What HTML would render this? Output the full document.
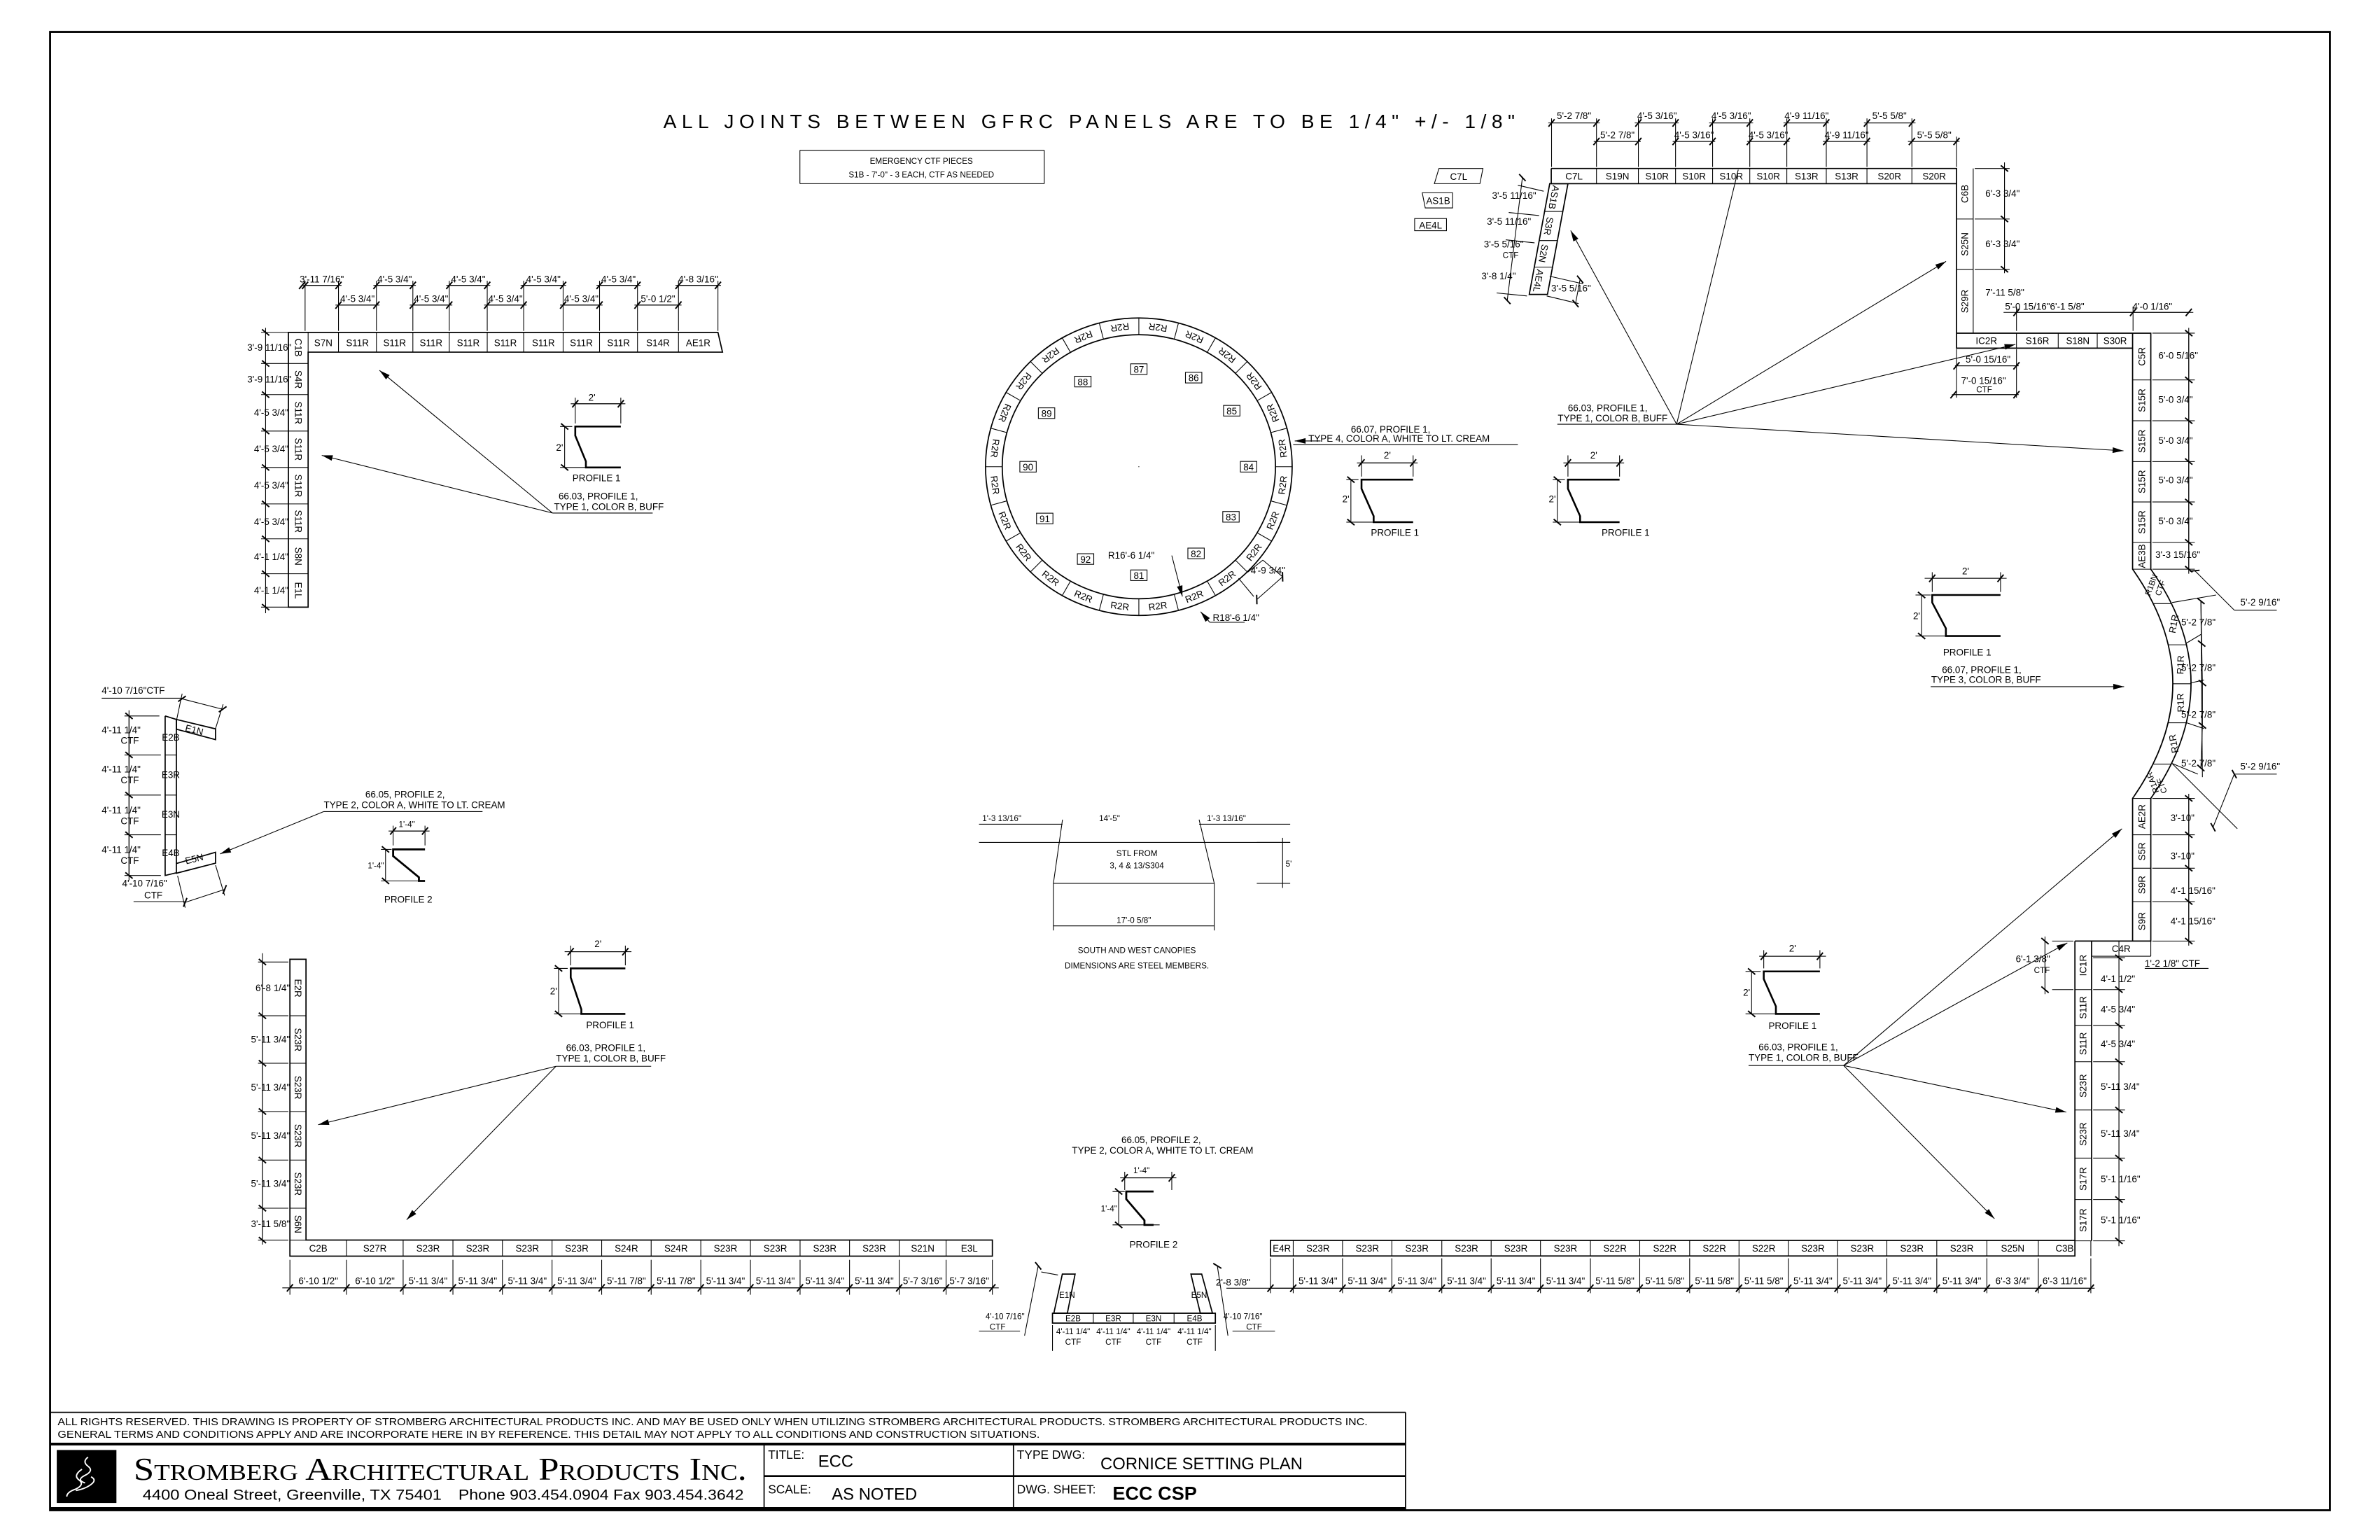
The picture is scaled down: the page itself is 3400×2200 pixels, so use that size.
<!DOCTYPE html>
<html><head><meta charset="utf-8"><style>
html,body{margin:0;padding:0;background:#fff;}
svg{display:block;}
text{font-family:"Liberation Sans Narrow","Liberation Sans",sans-serif;fill:#000;}
.t{font-size:6.2px;}
.s{font-size:5.4px;}
.c{text-anchor:middle;}
.e{text-anchor:end;}
.g{fill:#888;}
line,path,polyline,polygon,rect,ellipse{stroke:#000;fill:none;stroke-width:0.5;}
.k{stroke-width:0.8;}
.gl{stroke:#999;}
</style></head><body>
<svg xmlns="http://www.w3.org/2000/svg" width="3400" height="2200" viewBox="0 0 1568 1014.6" preserveAspectRatio="none">
<defs>
<marker id="a" markerUnits="userSpaceOnUse" markerWidth="10" markerHeight="10" viewBox="-6 -3 7 6" refX="0" refY="0" orient="auto"><path d="M0,0 L-5,-1.3 L-5,1.3 Z" style="fill:#000;stroke:none"/></marker>
<marker id="k" markerUnits="userSpaceOnUse" markerWidth="8" markerHeight="8" viewBox="-4 -4 8 8" refX="0" refY="0" orient="auto"><path d="M-2,2.4 L2,-2.4" style="stroke:#000;stroke-width:0.9"/></marker>
</defs>
<rect x="0" y="0" width="1568" height="1014.6" style="fill:#fff;stroke:none"/>
<rect x="33" y="21" width="1502" height="974" style="stroke-width:1.3"/>

<text x="437" y="84.5" textLength="561" lengthAdjust="spacing" style="font-size:13px;font-family:'Liberation Sans',sans-serif">ALL JOINTS BETWEEN GFRC PANELS ARE TO BE 1/4" +/- 1/8"</text>
<line x1="527" y1="99" x2="688" y2="99"/><line x1="527" y1="121" x2="688" y2="121"/>
<line x1="527" y1="99" x2="527" y2="121"/><line x1="688" y1="99" x2="688" y2="121"/>
<text class="s c" x="607" y="108">EMERGENCY CTF PIECES</text>
<text class="s c" x="607" y="117">S1B - 7'-0" - 3 EACH, CTF AS NEEDED</text>

<!-- ================= TOP LEFT ================= -->
<path class="k" d="M190,219 H473 L476,232 H203 V400 H190 Z"/>
<g class="k">
<line x1="203" y1="219" x2="203" y2="232"/><line x1="223" y1="219" x2="223" y2="232"/><line x1="248" y1="219" x2="248" y2="232"/><line x1="272" y1="219" x2="272" y2="232"/><line x1="296" y1="219" x2="296" y2="232"/><line x1="321" y1="219" x2="321" y2="232"/><line x1="345" y1="219" x2="345" y2="232"/><line x1="371" y1="219" x2="371" y2="232"/><line x1="395" y1="219" x2="395" y2="232"/><line x1="420" y1="219" x2="420" y2="232"/><line x1="447" y1="219" x2="447" y2="232"/>
<line x1="190" y1="239.5" x2="203" y2="239.5"/><line x1="190" y1="260" x2="203" y2="260"/><line x1="190" y1="284" x2="203" y2="284"/><line x1="190" y1="308" x2="203" y2="308"/><line x1="190" y1="332" x2="203" y2="332"/><line x1="190" y1="355" x2="203" y2="355"/><line x1="190" y1="378" x2="203" y2="378"/>
</g>
<g class="t c">
<text x="213" y="228">S7N</text><text x="235.5" y="228">S11R</text><text x="260" y="228">S11R</text><text x="284" y="228">S11R</text><text x="308.5" y="228">S11R</text><text x="333" y="228">S11R</text><text x="358" y="228">S11R</text><text x="383" y="228">S11R</text><text x="407.5" y="228">S11R</text><text x="433.5" y="228">S14R</text><text x="460" y="228">AE1R</text>
<text transform="translate(196.5,229) rotate(90)" dy="2.2">C1B</text>
<text transform="translate(196.5,250) rotate(90)" dy="2.2">S4R</text>
<text transform="translate(196.5,272) rotate(90)" dy="2.2">S11R</text>
<text transform="translate(196.5,296) rotate(90)" dy="2.2">S11R</text>
<text transform="translate(196.5,320) rotate(90)" dy="2.2">S11R</text>
<text transform="translate(196.5,343.5) rotate(90)" dy="2.2">S11R</text>
<text transform="translate(196.5,366.5) rotate(90)" dy="2.2">S8N</text>
<text transform="translate(196.5,389) rotate(90)" dy="2.2">E1L</text>
</g>
<g>
<line x1="201" y1="218" x2="201" y2="185"/><line x1="223" y1="218" x2="223" y2="185"/><line x1="248" y1="218" x2="248" y2="185"/><line x1="272" y1="218" x2="272" y2="185"/><line x1="296" y1="218" x2="296" y2="185"/><line x1="321" y1="218" x2="321" y2="185"/><line x1="345" y1="218" x2="345" y2="185"/><line x1="371" y1="218" x2="371" y2="185"/><line x1="395" y1="218" x2="395" y2="185"/><line x1="420" y1="218" x2="420" y2="185"/><line x1="447" y1="218" x2="447" y2="185"/><line x1="473" y1="218" x2="473" y2="185"/>
<line x1="199" y1="188" x2="225" y2="188" marker-start="url(#k)"/><line x1="201" y1="188" x2="223" y2="188" marker-start="url(#k)" marker-end="url(#k)"/>
<line x1="246" y1="188" x2="274" y2="188"/><line x1="248" y1="188" x2="272" y2="188" marker-start="url(#k)" marker-end="url(#k)"/>
<line x1="294" y1="188" x2="323" y2="188"/><line x1="296" y1="188" x2="321" y2="188" marker-start="url(#k)" marker-end="url(#k)"/>
<line x1="343" y1="188" x2="373" y2="188"/><line x1="345" y1="188" x2="371" y2="188" marker-start="url(#k)" marker-end="url(#k)"/>
<line x1="393" y1="188" x2="422" y2="188"/><line x1="395" y1="188" x2="420" y2="188" marker-start="url(#k)" marker-end="url(#k)"/>
<line x1="445" y1="188" x2="475" y2="188"/><line x1="447" y1="188" x2="473" y2="188" marker-start="url(#k)" marker-end="url(#k)"/>
<line x1="221" y1="201" x2="250" y2="201"/><line x1="223" y1="201" x2="248" y2="201" marker-start="url(#k)" marker-end="url(#k)"/>
<line x1="270" y1="201" x2="298" y2="201"/><line x1="272" y1="201" x2="296" y2="201" marker-start="url(#k)" marker-end="url(#k)"/>
<line x1="319" y1="201" x2="347" y2="201"/><line x1="321" y1="201" x2="345" y2="201" marker-start="url(#k)" marker-end="url(#k)"/>
<line x1="369" y1="201" x2="397" y2="201"/><line x1="371" y1="201" x2="395" y2="201" marker-start="url(#k)" marker-end="url(#k)"/>
<line x1="418" y1="201" x2="449" y2="201"/><line x1="420" y1="201" x2="447" y2="201" marker-start="url(#k)" marker-end="url(#k)"/>
</g>
<g class="t c">
<text x="212" y="186">3'-11 7/16"</text><text x="260" y="186">4'-5 3/4"</text><text x="308.5" y="186">4'-5 3/4"</text><text x="358" y="186">4'-5 3/4"</text><text x="407.5" y="186">4'-5 3/4"</text><text x="460" y="186">4'-8 3/16"</text>
<text x="235.5" y="199">4'-5 3/4"</text><text x="284" y="199">4'-5 3/4"</text><text x="333" y="199">4'-5 3/4"</text><text x="383" y="199">4'-5 3/4"</text><text x="433.5" y="199">5'-0 1/2"</text>
</g>
<g>
<line x1="175" y1="216" x2="175" y2="404"/>
<line x1="172" y1="219" x2="190" y2="219"/><line x1="172" y1="239.5" x2="190" y2="239.5"/><line x1="172" y1="260" x2="190" y2="260"/><line x1="172" y1="284" x2="190" y2="284"/><line x1="172" y1="308" x2="190" y2="308"/><line x1="172" y1="332" x2="190" y2="332"/><line x1="172" y1="355" x2="190" y2="355"/><line x1="172" y1="378" x2="190" y2="378"/><line x1="172" y1="400" x2="190" y2="400"/>
<line x1="175" y1="219" x2="175" y2="239.5" marker-start="url(#k)" marker-end="url(#k)"/><line x1="175" y1="239.5" x2="175" y2="260" marker-end="url(#k)"/><line x1="175" y1="260" x2="175" y2="284" marker-end="url(#k)"/><line x1="175" y1="284" x2="175" y2="308" marker-end="url(#k)"/><line x1="175" y1="308" x2="175" y2="332" marker-end="url(#k)"/><line x1="175" y1="332" x2="175" y2="355" marker-end="url(#k)"/><line x1="175" y1="355" x2="175" y2="378" marker-end="url(#k)"/><line x1="175" y1="378" x2="175" y2="400" marker-end="url(#k)"/>
</g>
<g class="t e">
<text x="192" y="231">3'-9 11/16"</text><text x="192" y="252">3'-9 11/16"</text><text x="190" y="274">4'-5 3/4"</text><text x="190" y="298">4'-5 3/4"</text><text x="190" y="322">4'-5 3/4"</text><text x="190" y="346">4'-5 3/4"</text><text x="190" y="369">4'-1 1/4"</text><text x="190" y="391">4'-1 1/4"</text>
</g>
<g>
<line x1="376" y1="266" x2="412" y2="266"/><line x1="379" y1="266" x2="409" y2="266" marker-start="url(#k)" marker-end="url(#k)"/>
<line x1="379" y1="262" x2="379" y2="279"/><line x1="409" y1="262" x2="409" y2="279"/>
<line x1="369" y1="281" x2="377" y2="281"/><line x1="369" y1="308" x2="386" y2="308"/>
<line x1="372" y1="281" x2="372" y2="308" marker-start="url(#k)" marker-end="url(#k)"/>
<path d="M409,281 H379 V287 L386,304 V308 H409" style="stroke-width:1.2"/>
</g>
<text class="t c" x="390" y="264">2'</text><text class="t e" x="371" y="297">2'</text>
<text class="t c" x="393" y="317">PROFILE 1</text>
<text class="t" x="368" y="329">66.03, PROFILE 1,</text>
<text class="t" x="365" y="336">TYPE 1, COLOR B, BUFF</text>
<line x1="364" y1="338" x2="430" y2="338"/>
<line x1="364" y1="338" x2="250" y2="244" marker-end="url(#a)"/>
<line x1="364" y1="338" x2="212" y2="300" marker-end="url(#a)"/>

<!-- ================= CIRCLE ================= -->
<ellipse cx="750.3" cy="307.5" rx="101" ry="98" style="stroke-width:0.8"/>
<ellipse cx="750.3" cy="307.5" rx="90" ry="87" style="stroke-width:0.8"/>
<g class="k">
<line x1="840.3" y1="307.5" x2="851.3" y2="307.5"/><line x1="837.2" y1="330" x2="847.9" y2="332.9"/><line x1="828.2" y1="351" x2="837.8" y2="356.5"/><line x1="813.9" y1="369" x2="821.7" y2="376.8"/><line x1="795.3" y1="382.8" x2="800.8" y2="392.4"/><line x1="773.6" y1="391.5" x2="776.4" y2="402.2"/><line x1="750.3" y1="394.5" x2="750.3" y2="405.5"/>
<line x1="727" y1="391.5" x2="724.2" y2="402.2"/><line x1="705.3" y1="382.8" x2="699.8" y2="392.4"/><line x1="686.7" y1="369" x2="678.9" y2="376.8"/><line x1="672.4" y1="351" x2="662.8" y2="356.5"/><line x1="663.4" y1="330" x2="652.7" y2="332.9"/><line x1="660.3" y1="307.5" x2="649.3" y2="307.5"/>
<line x1="663.4" y1="285" x2="652.7" y2="282.1"/><line x1="672.4" y1="264" x2="662.8" y2="258.5"/><line x1="686.7" y1="246" x2="678.9" y2="238.2"/><line x1="705.3" y1="232.2" x2="699.8" y2="222.6"/><line x1="727" y1="223.5" x2="724.2" y2="212.8"/><line x1="750.3" y1="220.5" x2="750.3" y2="209.5"/>
<line x1="773.6" y1="223.5" x2="776.4" y2="212.8"/><line x1="795.3" y1="232.2" x2="800.8" y2="222.6"/><line x1="813.9" y1="246" x2="821.7" y2="238.2"/><line x1="828.2" y1="264" x2="837.8" y2="258.5"/><line x1="837.2" y1="285" x2="847.9" y2="282.1"/>
</g>
<g class="t c">
<text transform="translate(845,319.6) rotate(-82.5)" dy="2.2">R2R</text>
<text transform="translate(838.5,342.9) rotate(-67.5)" dy="2.2">R2R</text>
<text transform="translate(826.1,363.8) rotate(-52.5)" dy="2.2">R2R</text>
<text transform="translate(808.4,380.9) rotate(-37.5)" dy="2.2">R2R</text>
<text transform="translate(786.8,392.9) rotate(-22.5)" dy="2.2">R2R</text>
<text transform="translate(762.8,399.2) rotate(-7.5)" dy="2.2">R2R</text>
<text transform="translate(737.8,399.2) rotate(7.5)" dy="2.2">R2R</text>
<text transform="translate(713.8,392.9) rotate(22.5)" dy="2.2">R2R</text>
<text transform="translate(692.2,380.9) rotate(37.5)" dy="2.2">R2R</text>
<text transform="translate(674.5,363.8) rotate(52.5)" dy="2.2">R2R</text>
<text transform="translate(662.1,342.9) rotate(67.5)" dy="2.2">R2R</text>
<text transform="translate(655.6,319.6) rotate(82.5)" dy="2.2">R2R</text>
<text transform="translate(655.6,295.4) rotate(97.5)" dy="2.2">R2R</text>
<text transform="translate(662.1,272.1) rotate(112.5)" dy="2.2">R2R</text>
<text transform="translate(674.5,251.2) rotate(127.5)" dy="2.2">R2R</text>
<text transform="translate(692.2,234.1) rotate(142.5)" dy="2.2">R2R</text>
<text transform="translate(713.8,222.1) rotate(157.5)" dy="2.2">R2R</text>
<text transform="translate(737.8,215.8) rotate(172.5)" dy="2.2">R2R</text>
<text transform="translate(762.8,215.8) rotate(187.5)" dy="2.2">R2R</text>
<text transform="translate(786.8,222.1) rotate(202.5)" dy="2.2">R2R</text>
<text transform="translate(808.4,234.1) rotate(217.5)" dy="2.2">R2R</text>
<text transform="translate(826.1,251.2) rotate(232.5)" dy="2.2">R2R</text>
<text transform="translate(838.5,272.1) rotate(247.5)" dy="2.2">R2R</text>
<text transform="translate(845,295.4) rotate(262.5)" dy="2.2">R2R</text>
</g>
<g>
<rect x="744.9" y="239.7" width="10.8" height="7"/><rect x="781" y="245.3" width="10.8" height="7"/><rect x="806.1" y="267.1" width="10.8" height="7"/><rect x="817.2" y="304" width="10.8" height="7"/><rect x="805.6" y="337" width="10.8" height="7"/><rect x="782.6" y="361.1" width="10.8" height="7"/><rect x="744.9" y="375.5" width="10.8" height="7"/><rect x="709.8" y="364.8" width="10.8" height="7"/><rect x="682.9" y="338.1" width="10.8" height="7"/><rect x="671.9" y="304" width="10.8" height="7"/><rect x="684.1" y="268.7" width="10.8" height="7"/><rect x="708" y="247.9" width="10.8" height="7"/>
</g>
<g class="t c">
<text x="750.3" y="245.6">87</text><text x="786.4" y="251.2">86</text><text x="811.5" y="273">85</text><text x="822.6" y="309.9">84</text><text x="811" y="342.9">83</text><text x="788" y="367">82</text><text x="750.3" y="381.4">81</text><text x="715.2" y="370.7">92</text><text x="688.3" y="344">91</text><text x="677.3" y="309.9">90</text><text x="689.5" y="274.6">89</text><text x="713.4" y="253.8">88</text>
</g>
<circle cx="750.3" cy="307.5" r="0.3" style="fill:#000"/>
<text class="t" x="730" y="368">R16'-6 1/4"</text>
<line x1="772" y1="366" x2="779" y2="393" marker-end="url(#a)"/>
<text class="t" x="799" y="409">R18'-6 1/4"</text>
<line x1="797" y1="410" x2="820" y2="410"/>
<line x1="797" y1="410" x2="791" y2="403" marker-end="url(#a)"/>
<line x1="822" y1="377" x2="832" y2="369"/><line x1="832" y1="369" x2="845" y2="380"/>
<line x1="816" y1="381" x2="826" y2="393"/><line x1="845" y1="380" x2="828" y2="395" marker-start="url(#k)" marker-end="url(#k)"/>
<text class="t" x="824" y="378">4'-9 3/4"</text>
<text class="t" x="890" y="285">66.07, PROFILE 1,</text>
<text class="t" x="862" y="291">TYPE 4, COLOR A, WHITE TO LT. CREAM</text>
<line x1="852" y1="293" x2="1000" y2="293"/>
<line x1="870" y1="290.5" x2="853" y2="290.5" marker-end="url(#a)"/>

<g>
<line x1="894" y1="305" x2="934" y2="305"/><line x1="897" y1="305" x2="931" y2="305" marker-start="url(#k)" marker-end="url(#k)"/>
<line x1="897" y1="300" x2="897" y2="314"/><line x1="931" y1="300" x2="931" y2="314"/>
<line x1="887" y1="316" x2="895" y2="316"/><line x1="887" y1="344" x2="905" y2="344"/>
<line x1="890" y1="316" x2="890" y2="344" marker-start="url(#k)" marker-end="url(#k)"/>
<path d="M931,316 H897 V322 L905,340 V344 H931" style="stroke-width:1.2"/>
</g>
<text class="t c" x="914" y="302">2'</text><text class="t e" x="889" y="331">2'</text>
<text class="t c" x="919" y="353">PROFILE 1</text>
<g>
<line x1="1030" y1="305" x2="1070" y2="305"/><line x1="1033" y1="305" x2="1067" y2="305" marker-start="url(#k)" marker-end="url(#k)"/>
<line x1="1033" y1="300" x2="1033" y2="314"/><line x1="1067" y1="300" x2="1067" y2="314"/>
<line x1="1023" y1="316" x2="1031" y2="316"/><line x1="1023" y1="344" x2="1041" y2="344"/>
<line x1="1026" y1="316" x2="1026" y2="344" marker-start="url(#k)" marker-end="url(#k)"/>
<path d="M1067,316 H1033 V322 L1041,340 V344 H1067" style="stroke-width:1.2"/>
</g>
<text class="t c" x="1050" y="302">2'</text><text class="t e" x="1025" y="331">2'</text>
<text class="t c" x="1071" y="353">PROFILE 1</text>

<!-- ================= TOP RIGHT ================= -->
<polygon points="948,111 977,111 975,121 945,121"/>
<text class="t c" x="961" y="118.5">C7L</text>
<polygon points="937,127 957,127 957,137 939,137"/>
<text class="t c" x="947.5" y="134.5">AS1B</text>
<rect x="932" y="144" width="21" height="8"/>
<text class="t c" x="942.5" y="150.5">AE4L</text>

<path class="k" d="M1022,111 H1289 V219.5 H1417 V375 Q1470,450 1417,526 V620 H1378 V817.5 M1022,111 V121 M1405,219.5 V375 Q1458,450 1405,526 V620 M1289,121 H1022 M1289,111 V229.4 H1405 M1367,620 V827.5 H837 V817.2 H1367 M1367,620 H1378"/>
<polygon class="k" points="1021,121 1033,121 1019.5,194 1007.5,194"/>
<g class="k">
<line x1="1017.6" y1="139.3" x2="1029.6" y2="139.3"/><line x1="1014.1" y1="158.5" x2="1026.1" y2="158.5"/><line x1="1010.8" y1="176" x2="1022.8" y2="176"/>
<line x1="1051.8" y1="111" x2="1051.8" y2="121"/><line x1="1079.4" y1="111" x2="1079.4" y2="121"/><line x1="1103.9" y1="111" x2="1103.9" y2="121"/><line x1="1128.3" y1="111" x2="1128.3" y2="121"/><line x1="1152.8" y1="111" x2="1152.8" y2="121"/><line x1="1177.2" y1="111" x2="1177.2" y2="121"/><line x1="1203.2" y1="111" x2="1203.2" y2="121"/><line x1="1230" y1="111" x2="1230" y2="121"/><line x1="1259.6" y1="111" x2="1259.6" y2="121"/>
<line x1="1300" y1="111" x2="1300" y2="219.5"/>
<line x1="1289" y1="144.3" x2="1300" y2="144.3"/><line x1="1289" y1="177.4" x2="1300" y2="177.4"/>
<line x1="1289" y1="219.5" x2="1405" y2="219.5"/>
<line x1="1328.5" y1="219.5" x2="1328.5" y2="229.4"/><line x1="1356" y1="219.5" x2="1356" y2="229.4"/><line x1="1381.7" y1="219.5" x2="1381.7" y2="229.4"/>
<line x1="1405" y1="250.3" x2="1417" y2="250.3"/><line x1="1405" y1="277.2" x2="1417" y2="277.2"/><line x1="1405" y1="304.1" x2="1417" y2="304.1"/><line x1="1405" y1="330.7" x2="1417" y2="330.7"/><line x1="1405" y1="357.3" x2="1417" y2="357.3"/><line x1="1405" y1="375" x2="1417" y2="375"/>
<line x1="1418.5" y1="397.7" x2="1430.5" y2="397.7"/><line x1="1428.4" y1="424.8" x2="1440.4" y2="424.8"/><line x1="1431.5" y1="450.5" x2="1443.5" y2="450.5"/><line x1="1428.4" y1="476.2" x2="1440.4" y2="476.2"/><line x1="1418.5" y1="503.4" x2="1430.5" y2="503.4"/>
<line x1="1405" y1="526" x2="1417" y2="526"/><line x1="1405" y1="550" x2="1417" y2="550"/><line x1="1405" y1="572" x2="1417" y2="572"/><line x1="1405" y1="594" x2="1417" y2="594"/>
<line x1="1378" y1="630" x2="1417" y2="630"/><line x1="1417" y1="620" x2="1417" y2="630"/>
<line x1="1367" y1="652" x2="1378" y2="652"/><line x1="1367" y1="675.6" x2="1378" y2="675.6"/><line x1="1367" y1="699.5" x2="1378" y2="699.5"/><line x1="1367" y1="731.3" x2="1378" y2="731.3"/><line x1="1367" y1="763" x2="1378" y2="763"/><line x1="1367" y1="790.3" x2="1378" y2="790.3"/><line x1="1367" y1="817.5" x2="1378" y2="817.5"/>
<line x1="1377.5" y1="817.5" x2="1377.5" y2="827.5"/>
<line x1="852" y1="817.2" x2="852" y2="827.5"/><line x1="884.5" y1="817.2" x2="884.5" y2="827.5"/><line x1="917" y1="817.2" x2="917" y2="827.5"/><line x1="949.9" y1="817.2" x2="949.9" y2="827.5"/><line x1="982.4" y1="817.2" x2="982.4" y2="827.5"/><line x1="1014.9" y1="817.2" x2="1014.9" y2="827.5"/><line x1="1047.8" y1="817.2" x2="1047.8" y2="827.5"/><line x1="1080.3" y1="817.2" x2="1080.3" y2="827.5"/><line x1="1113.2" y1="817.2" x2="1113.2" y2="827.5"/><line x1="1145.7" y1="817.2" x2="1145.7" y2="827.5"/><line x1="1178.2" y1="817.2" x2="1178.2" y2="827.5"/><line x1="1210.6" y1="817.2" x2="1210.6" y2="827.5"/><line x1="1243.1" y1="817.2" x2="1243.1" y2="827.5"/><line x1="1276" y1="817.2" x2="1276" y2="827.5"/><line x1="1309" y1="817.2" x2="1309" y2="827.5"/><line x1="1342.9" y1="817.2" x2="1342.9" y2="827.5"/>
</g>
<g class="t c">
<text transform="translate(1023.8,130) rotate(100.5)" dy="2.2">AS1B</text>
<text transform="translate(1020.3,149) rotate(100.5)" dy="2.2">S3R</text>
<text transform="translate(1016.9,167) rotate(100.5)" dy="2.2">S2N</text>
<text transform="translate(1013.5,185) rotate(100.5)" dy="2.2">AE4L</text>
<text x="1037" y="118.4">C7L</text><text x="1065.6" y="118.4">S19N</text><text x="1091.7" y="118.4">S10R</text><text x="1116.1" y="118.4">S10R</text><text x="1140.6" y="118.4">S10R</text><text x="1165" y="118.4">S10R</text><text x="1190.2" y="118.4">S13R</text><text x="1216.6" y="118.4">S13R</text><text x="1244.8" y="118.4">S20R</text><text x="1274.3" y="118.4">S20R</text>
<text transform="translate(1294.5,127.7) rotate(-90)" dy="2.2">C6B</text>
<text transform="translate(1294.5,160.9) rotate(-90)" dy="2.2">S25N</text>
<text transform="translate(1294.5,198.5) rotate(-90)" dy="2.2">S29R</text>
<text x="1308.7" y="226.7">IC2R</text><text x="1342.3" y="226.7">S16R</text><text x="1368.9" y="226.7">S18N</text><text x="1393.5" y="226.7">S30R</text>
<text transform="translate(1411,234.9) rotate(-90)" dy="2.2">C5R</text>
<text transform="translate(1411,263.8) rotate(-90)" dy="2.2">S15R</text>
<text transform="translate(1411,290.7) rotate(-90)" dy="2.2">S15R</text>
<text transform="translate(1411,317.4) rotate(-90)" dy="2.2">S15R</text>
<text transform="translate(1411,344) rotate(-90)" dy="2.2">S15R</text>
<text transform="translate(1411,366.4) rotate(-90)" dy="2.2">AE3B</text>
<text transform="translate(1419,386) rotate(-70)" dy="0" class="s">R1BN</text>
<text transform="translate(1425,388) rotate(-70)" dy="0" class="s">CTF</text>
<text transform="translate(1432,411) rotate(-80)" dy="2.2">R1R</text>
<text transform="translate(1436.5,438) rotate(-88)" dy="2.2">R1R</text>
<text transform="translate(1436.5,463) rotate(-92)" dy="2.2">R1R</text>
<text transform="translate(1432,490) rotate(-100)" dy="2.2">R1R</text>
<text transform="translate(1420,515) rotate(-110)" dy="0" class="s">R1AR</text>
<text transform="translate(1426,517) rotate(-110)" dy="0" class="s">CTF</text>
<text transform="translate(1411,538) rotate(-90)" dy="2.2">AE2R</text>
<text transform="translate(1411,561) rotate(-90)" dy="2.2">S5R</text>
<text transform="translate(1411,583) rotate(-90)" dy="2.2">S9R</text>
<text transform="translate(1411,607) rotate(-90)" dy="2.2">S9R</text>
<text x="1397.5" y="627.2">C4R</text>
<text transform="translate(1372.4,636) rotate(-90)" dy="2.2">IC1R</text>
<text transform="translate(1372.4,663.8) rotate(-90)" dy="2.2">S11R</text>
<text transform="translate(1372.4,687.6) rotate(-90)" dy="2.2">S11R</text>
<text transform="translate(1372.4,715.4) rotate(-90)" dy="2.2">S23R</text>
<text transform="translate(1372.4,747.2) rotate(-90)" dy="2.2">S23R</text>
<text transform="translate(1372.4,776.7) rotate(-90)" dy="2.2">S17R</text>
<text transform="translate(1372.4,803.9) rotate(-90)" dy="2.2">S17R</text>
</g>
<g>
<line x1="1022.2" y1="110" x2="1022.2" y2="78"/><line x1="1051.8" y1="110" x2="1051.8" y2="78"/><line x1="1079.4" y1="110" x2="1079.4" y2="78"/><line x1="1103.9" y1="110" x2="1103.9" y2="78"/><line x1="1128.3" y1="110" x2="1128.3" y2="78"/><line x1="1152.8" y1="110" x2="1152.8" y2="78"/><line x1="1177.2" y1="110" x2="1177.2" y2="78"/><line x1="1203.2" y1="110" x2="1203.2" y2="78"/><line x1="1230" y1="110" x2="1230" y2="78"/><line x1="1259.6" y1="110" x2="1259.6" y2="78"/><line x1="1289" y1="110" x2="1289" y2="90"/>
<line x1="1020" y1="81" x2="1054" y2="81"/><line x1="1022.2" y1="81" x2="1051.8" y2="81" marker-start="url(#k)" marker-end="url(#k)"/>
<line x1="1077" y1="81" x2="1106" y2="81"/><line x1="1079.4" y1="81" x2="1103.9" y2="81" marker-start="url(#k)" marker-end="url(#k)"/>
<line x1="1126" y1="81" x2="1155" y2="81"/><line x1="1128.3" y1="81" x2="1152.8" y2="81" marker-start="url(#k)" marker-end="url(#k)"/>
<line x1="1175" y1="81" x2="1205" y2="81"/><line x1="1177.2" y1="81" x2="1203.2" y2="81" marker-start="url(#k)" marker-end="url(#k)"/>
<line x1="1228" y1="81" x2="1262" y2="81"/><line x1="1230" y1="81" x2="1259.6" y2="81" marker-start="url(#k)" marker-end="url(#k)"/>
<line x1="1050" y1="93.2" x2="1081" y2="93.2"/><line x1="1051.8" y1="93.2" x2="1079.4" y2="93.2" marker-start="url(#k)" marker-end="url(#k)"/>
<line x1="1102" y1="93.2" x2="1130" y2="93.2"/><line x1="1103.9" y1="93.2" x2="1128.3" y2="93.2" marker-start="url(#k)" marker-end="url(#k)"/>
<line x1="1151" y1="93.2" x2="1179" y2="93.2"/><line x1="1152.8" y1="93.2" x2="1177.2" y2="93.2" marker-start="url(#k)" marker-end="url(#k)"/>
<line x1="1201" y1="93.2" x2="1232" y2="93.2"/><line x1="1203.2" y1="93.2" x2="1230" y2="93.2" marker-start="url(#k)" marker-end="url(#k)"/>
<line x1="1257" y1="93.2" x2="1291" y2="93.2"/><line x1="1259.6" y1="93.2" x2="1289" y2="93.2" marker-start="url(#k)" marker-end="url(#k)"/>
</g>
<g class="t c">
<text x="1037" y="78.5">5'-2 7/8"</text><text x="1091.7" y="78.5">4'-5 3/16"</text><text x="1140.6" y="78.5">4'-5 3/16"</text><text x="1190.2" y="78.5">4'-9 11/16"</text><text x="1244.8" y="78.5">5'-5 5/8"</text>
<text x="1065.6" y="91">5'-2 7/8"</text><text x="1116.1" y="91">4'-5 3/16"</text><text x="1165" y="91">4'-5 3/16"</text><text x="1216.6" y="91">4'-9 11/16"</text><text x="1274.3" y="91">5'-5 5/8"</text>
</g>
<g>
<line x1="1000" y1="122" x2="1017" y2="126"/><line x1="994" y1="140" x2="1014" y2="142"/><line x1="992" y1="158" x2="1011" y2="160"/><line x1="986" y1="193" x2="1006" y2="195"/>
<line x1="1003" y1="117" x2="993" y2="198" marker-start="url(#k)" marker-end="url(#k)"/>
<line x1="1021" y1="182" x2="1043" y2="187"/><line x1="1019" y1="195" x2="1040" y2="200"/>
<line x1="1041" y1="184" x2="1038" y2="200" marker-start="url(#k)" marker-end="url(#k)"/>
</g>
<g class="t">
<text x="983" y="131">3'-5 11/16"</text><text x="979.6" y="148">3'-5 11/16"</text><text x="977.6" y="163">3'-5 5/16"</text><text class="s" x="990" y="170">CTF</text><text x="976" y="184">3'-8 1/4"</text><text x="1022" y="192">3'-5 5/16"</text>
</g>
<g>
<line x1="1301" y1="111" x2="1324" y2="111"/><line x1="1301" y1="144.3" x2="1324" y2="144.3"/><line x1="1301" y1="177.4" x2="1324" y2="177.4"/>
<line x1="1320.6" y1="107" x2="1320.6" y2="180" />
<line x1="1320.6" y1="111" x2="1320.6" y2="144.3" marker-start="url(#k)" marker-end="url(#k)"/><line x1="1320.6" y1="144.3" x2="1320.6" y2="177.4" marker-end="url(#k)"/>
<line x1="1328.5" y1="218" x2="1328.5" y2="202"/><line x1="1405.3" y1="218" x2="1405.3" y2="202"/>
<line x1="1320" y1="205.8" x2="1445" y2="205.8"/>
<line x1="1328.5" y1="205.8" x2="1405.3" y2="205.8" marker-start="url(#k)" marker-end="url(#k)"/><line x1="1405.3" y1="205.8" x2="1442" y2="205.8" marker-end="url(#k)"/>
<line x1="1289" y1="230" x2="1289" y2="262"/><line x1="1328.5" y1="230" x2="1328.5" y2="262"/>
<line x1="1288" y1="241" x2="1330" y2="241"/><line x1="1289" y1="241" x2="1328.5" y2="241" marker-start="url(#k)" marker-end="url(#k)"/>
<line x1="1286" y1="260" x2="1330" y2="260"/><line x1="1287" y1="260" x2="1328.5" y2="260" marker-start="url(#k)" marker-end="url(#k)"/>
<line x1="1418" y1="219.5" x2="1446" y2="219.5"/><line x1="1418" y1="250.3" x2="1446" y2="250.3"/><line x1="1418" y1="277.2" x2="1446" y2="277.2"/><line x1="1418" y1="304.1" x2="1446" y2="304.1"/><line x1="1418" y1="330.7" x2="1446" y2="330.7"/><line x1="1418" y1="357.3" x2="1446" y2="357.3"/><line x1="1418" y1="375" x2="1446" y2="375"/>
<line x1="1442" y1="216" x2="1442" y2="378"/>
<line x1="1442" y1="219.5" x2="1442" y2="250.3" marker-start="url(#k)" marker-end="url(#k)"/><line x1="1442" y1="250.3" x2="1442" y2="277.2" marker-end="url(#k)"/><line x1="1442" y1="277.2" x2="1442" y2="304.1" marker-end="url(#k)"/><line x1="1442" y1="304.1" x2="1442" y2="330.7" marker-end="url(#k)"/><line x1="1442" y1="330.7" x2="1442" y2="357.3" marker-end="url(#k)"/><line x1="1442" y1="357.3" x2="1442" y2="375" marker-end="url(#k)"/>
<line x1="1431" y1="397" x2="1460" y2="392"/><line x1="1446" y1="376" x2="1472" y2="402" marker-start="url(#k)"/>
<line x1="1472" y1="402" x2="1500" y2="402"/>
<line x1="1440" y1="424" x2="1450" y2="418"/><line x1="1443" y1="450" x2="1452" y2="448"/><line x1="1440" y1="476" x2="1452" y2="480"/><line x1="1431" y1="503" x2="1448" y2="510"/>
<line x1="1450" y1="396" x2="1451" y2="512"/>
<line x1="1450" y1="396" x2="1450.5" y2="424" marker-start="url(#k)" marker-end="url(#k)"/><line x1="1450.5" y1="424" x2="1451" y2="450" marker-end="url(#k)"/><line x1="1451" y1="450" x2="1451" y2="478" marker-end="url(#k)"/><line x1="1451" y1="478" x2="1450" y2="506" marker-end="url(#k)"/>
<line x1="1431" y1="503" x2="1474" y2="546"/><line x1="1472" y1="510" x2="1458" y2="545" marker-start="url(#k)" marker-end="url(#k)"/>
<line x1="1472" y1="510" x2="1500" y2="510"/>
<line x1="1418" y1="526" x2="1446" y2="526"/><line x1="1418" y1="550" x2="1446" y2="550"/><line x1="1418" y1="572" x2="1446" y2="572"/><line x1="1418" y1="594" x2="1446" y2="594"/><line x1="1418" y1="620" x2="1446" y2="620"/>
<line x1="1442" y1="523" x2="1442" y2="623"/>
<line x1="1442" y1="526" x2="1442" y2="550" marker-start="url(#k)" marker-end="url(#k)"/><line x1="1442" y1="550" x2="1442" y2="572" marker-end="url(#k)"/><line x1="1442" y1="572" x2="1442" y2="594" marker-end="url(#k)"/><line x1="1442" y1="594" x2="1442" y2="620" marker-end="url(#k)"/>
</g>
<g class="t">
<text x="1308" y="129.5">6'-3 3/4"</text><text x="1308" y="162.7">6'-3 3/4"</text><text x="1308" y="194.8">7'-11 5/8"</text>
<text x="1321" y="204">5'-0 15/16"6'-1 5/8"</text><text x="1405" y="204">4'-0 1/16"</text>
<text x="1295" y="239">5'-0 15/16"</text><text x="1292" y="253">7'-0 15/16"</text><text class="s" x="1302" y="258.5">CTF</text>
<text x="1422" y="236.4">6'-0 5/16"</text><text x="1422" y="265.4">5'-0 3/4"</text><text x="1422" y="292.3">5'-0 3/4"</text><text x="1422" y="318.5">5'-0 3/4"</text><text x="1422" y="345.4">5'-0 3/4"</text><text x="1420" y="367.5">3'-3 15/16"</text>
<text x="1476" y="399">5'-2 9/16"</text>
<text x="1437" y="412">5'-2 7/8"</text><text x="1437" y="442">5'-2 7/8"</text><text x="1437" y="473">5'-2 7/8"</text><text x="1437" y="505">5'-2 7/8"</text>
<text x="1476" y="507">5'-2 9/16"</text>
<text x="1430" y="541">3'-10"</text><text x="1430" y="566">3'-10"</text><text x="1430" y="589">4'-1 15/16"</text><text x="1430" y="609">4'-1 15/16"</text>
</g>
<text class="t" x="1033" y="271">66.03, PROFILE 1,</text>
<text class="t" x="1026.3" y="277.6">TYPE 1, COLOR B, BUFF</text>
<line x1="1026" y1="279.5" x2="1104.6" y2="279.5"/>
<line x1="1104.6" y1="279.5" x2="1034.8" y2="151.9" marker-end="url(#a)"/>
<line x1="1104.6" y1="279.5" x2="1145.2" y2="111.8"/>
<line x1="1104.6" y1="279.5" x2="1282.1" y2="172.2" marker-end="url(#a)"/>
<line x1="1104.6" y1="279.5" x2="1327.8" y2="226.9" marker-end="url(#a)"/>
<line x1="1104.6" y1="279.5" x2="1399" y2="297" marker-end="url(#a)"/>
<g>
<line x1="1268" y1="381" x2="1322" y2="381"/><line x1="1273" y1="381" x2="1318" y2="381" marker-start="url(#k)" marker-end="url(#k)"/>
<line x1="1273" y1="377" x2="1273" y2="390"/><line x1="1318" y1="377" x2="1318" y2="390"/>
<line x1="1262" y1="392" x2="1272" y2="392"/><line x1="1262" y1="419" x2="1282" y2="419"/>
<line x1="1266" y1="392" x2="1266" y2="419" marker-start="url(#k)" marker-end="url(#k)"/>
<path d="M1318,392 H1273 V397 L1282,414 V419 H1318" style="stroke-width:1.2"/>
</g>
<text class="t c" x="1295" y="378.5">2'</text><text class="t e" x="1265" y="408">2'</text>
<text class="t c" x="1296" y="432">PROFILE 1</text>
<text class="t" x="1279.4" y="443.5">66.07, PROFILE 1,</text>
<text class="t" x="1272.3" y="450">TYPE 3, COLOR B, BUFF</text>
<line x1="1272" y1="452.4" x2="1399.4" y2="452.4" marker-end="url(#a)"/>

<g>
<line x1="1352" y1="620" x2="1366" y2="620"/><line x1="1352" y1="652" x2="1366" y2="652"/>
<line x1="1347.3" y1="617" x2="1347.3" y2="655"/>
<line x1="1347.3" y1="620" x2="1347.3" y2="652" marker-start="url(#k)" marker-end="url(#k)"/>
<line x1="1379" y1="631" x2="1400" y2="631"/><line x1="1379" y1="652" x2="1400" y2="652"/><line x1="1379" y1="675.6" x2="1400" y2="675.6"/><line x1="1379" y1="699.5" x2="1400" y2="699.5"/><line x1="1379" y1="731.3" x2="1400" y2="731.3"/><line x1="1379" y1="763" x2="1400" y2="763"/><line x1="1379" y1="790.3" x2="1400" y2="790.3"/><line x1="1379" y1="817.5" x2="1400" y2="817.5"/>
<line x1="1396" y1="620" x2="1396" y2="821"/>
<line x1="1396" y1="631" x2="1396" y2="652" marker-start="url(#k)" marker-end="url(#k)"/><line x1="1396" y1="652" x2="1396" y2="675.6" marker-end="url(#k)"/><line x1="1396" y1="675.6" x2="1396" y2="699.5" marker-end="url(#k)"/><line x1="1396" y1="699.5" x2="1396" y2="731.3" marker-end="url(#k)"/><line x1="1396" y1="731.3" x2="1396" y2="763" marker-end="url(#k)"/><line x1="1396" y1="763" x2="1396" y2="790.3" marker-end="url(#k)"/><line x1="1396" y1="790.3" x2="1396" y2="817.5" marker-end="url(#k)"/>
<line x1="1413" y1="638" x2="1455" y2="638"/>
</g>
<g class="t">
<text x="1328" y="634">6'-1 3/8"</text><text class="s" x="1340" y="641">CTF</text>
<text x="1413" y="637">1'-2 1/8" CTF</text>
<text x="1384" y="647">4'-1 1/2"</text><text x="1384" y="667">4'-5 3/4"</text><text x="1384" y="690">4'-5 3/4"</text><text x="1384" y="718">5'-11 3/4"</text><text x="1384" y="749">5'-11 3/4"</text><text x="1384" y="779">5'-1 1/16"</text><text x="1384" y="806">5'-1 1/16"</text>
</g>
<g>
<line x1="1159" y1="630" x2="1203" y2="630"/><line x1="1162" y1="630" x2="1199" y2="630" marker-start="url(#k)" marker-end="url(#k)"/>
<line x1="1162" y1="626" x2="1162" y2="638"/><line x1="1199" y1="626" x2="1199" y2="638"/>
<line x1="1150" y1="640" x2="1160" y2="640"/><line x1="1150" y1="668" x2="1170" y2="668"/>
<line x1="1154" y1="640" x2="1154" y2="668" marker-start="url(#k)" marker-end="url(#k)"/>
<path d="M1199,640 H1162 V645 L1170,663 V668 H1199" style="stroke-width:1.2"/>
</g>
<text class="t c" x="1181" y="627">2'</text><text class="t e" x="1153" y="656">2'</text>
<text class="t c" x="1181" y="678">PROFILE 1</text>
<text class="t" x="1158.6" y="692">66.03, PROFILE 1,</text>
<text class="t" x="1152" y="699">TYPE 1, COLOR B, BUFF</text>
<line x1="1152" y1="702" x2="1214.6" y2="702"/>
<line x1="1214.6" y1="702" x2="1398" y2="546" marker-end="url(#a)"/>
<line x1="1214.6" y1="702" x2="1362" y2="621.2" marker-end="url(#a)"/>
<line x1="1214.6" y1="702" x2="1361.3" y2="732.7" marker-end="url(#a)"/>
<line x1="1214.6" y1="702" x2="1314" y2="802.9" marker-end="url(#a)"/>

<g class="t c">
<text x="844.5" y="824.5">E4R</text><text x="868.3" y="824.5">S23R</text><text x="900.8" y="824.5">S23R</text><text x="933.5" y="824.5">S23R</text><text x="966.2" y="824.5">S23R</text><text x="998.7" y="824.5">S23R</text><text x="1031.4" y="824.5">S23R</text><text x="1064" y="824.5">S22R</text><text x="1096.8" y="824.5">S22R</text><text x="1129.5" y="824.5">S22R</text><text x="1162" y="824.5">S22R</text><text x="1194.4" y="824.5">S23R</text><text x="1226.9" y="824.5">S23R</text><text x="1259.6" y="824.5">S23R</text><text x="1292.5" y="824.5">S23R</text><text x="1326" y="824.5">S25N</text><text x="1360.2" y="824.5">C3B</text>
</g>
<g>
<line x1="808" y1="848.7" x2="1380" y2="848.7"/>
<line x1="837" y1="829" x2="837" y2="852"/><line x1="852" y1="829" x2="852" y2="852"/><line x1="884.5" y1="829" x2="884.5" y2="852"/><line x1="917" y1="829" x2="917" y2="852"/><line x1="949.9" y1="829" x2="949.9" y2="852"/><line x1="982.4" y1="829" x2="982.4" y2="852"/><line x1="1014.9" y1="829" x2="1014.9" y2="852"/><line x1="1047.8" y1="829" x2="1047.8" y2="852"/><line x1="1080.3" y1="829" x2="1080.3" y2="852"/><line x1="1113.2" y1="829" x2="1113.2" y2="852"/><line x1="1145.7" y1="829" x2="1145.7" y2="852"/><line x1="1178.2" y1="829" x2="1178.2" y2="852"/><line x1="1210.6" y1="829" x2="1210.6" y2="852"/><line x1="1243.1" y1="829" x2="1243.1" y2="852"/><line x1="1276" y1="829" x2="1276" y2="852"/><line x1="1309" y1="829" x2="1309" y2="852"/><line x1="1342.9" y1="829" x2="1342.9" y2="852"/><line x1="1377.5" y1="829" x2="1377.5" y2="852"/>
<polyline points="837,848.7 852,848.7 884.5,848.7 917,848.7 949.9,848.7 982.4,848.7 1014.9,848.7 1047.8,848.7 1080.3,848.7 1113.2,848.7 1145.7,848.7 1178.2,848.7 1210.6,848.7 1243.1,848.7 1276,848.7 1309,848.7 1342.9,848.7 1377.5,848.7" marker-start="url(#k)" marker-mid="url(#k)" marker-end="url(#k)"/>
</g>
<g class="t c">
<text x="868.3" y="846">5'-11 3/4"</text><text x="900.8" y="846">5'-11 3/4"</text><text x="933.5" y="846">5'-11 3/4"</text><text x="966.2" y="846">5'-11 3/4"</text><text x="998.7" y="846">5'-11 3/4"</text><text x="1031.4" y="846">5'-11 3/4"</text><text x="1064" y="846">5'-11 5/8"</text><text x="1096.8" y="846">5'-11 5/8"</text><text x="1129.5" y="846">5'-11 5/8"</text><text x="1162" y="846">5'-11 5/8"</text><text x="1194.4" y="846">5'-11 3/4"</text><text x="1226.9" y="846">5'-11 3/4"</text><text x="1259.6" y="846">5'-11 3/4"</text><text x="1292.5" y="846">5'-11 3/4"</text><text x="1326" y="846">6'-3 3/4"</text><text x="1360.2" y="846">6'-3 11/16"</text>
</g>

<polygon class="k" points="699.9,839.4 708.3,839.4 703.2,865.2 694.3,865.2"/>
<polygon class="k" points="784.6,839.4 791.7,839.4 798.8,865.2 790.8,865.2"/>
<rect class="k" x="693.4" y="865.2" width="107.3" height="6.5"/>
<g class="k"><line x1="720.3" y1="865.2" x2="720.3" y2="871.7"/><line x1="746.6" y1="865.2" x2="746.6" y2="871.7"/><line x1="773.5" y1="865.2" x2="773.5" y2="871.7"/></g>
<g class="s c">
<text x="703" y="855">E1N</text><text x="790" y="855">E5N</text>
<text x="707" y="870.5">E2B</text><text x="733.5" y="870.5">E3R</text><text x="760" y="870.5">E3N</text><text x="787" y="870.5">E4B</text>
<text x="707" y="879">4'-11 1/4"</text><text x="733.5" y="879">4'-11 1/4"</text><text x="760" y="879">4'-11 1/4"</text><text x="787" y="879">4'-11 1/4"</text>
<text x="707" y="886">CTF</text><text x="733.5" y="886">CTF</text><text x="760" y="886">CTF</text><text x="787" y="886">CTF</text>
</g>
<g>
<line x1="693.4" y1="873" x2="693.4" y2="890"/><line x1="800.7" y1="873" x2="800.7" y2="890"/>
<line x1="684" y1="834" x2="675" y2="880" marker-start="url(#k)"/><line x1="686" y1="838" x2="697" y2="840"/>
<line x1="802" y1="834" x2="809" y2="880" marker-start="url(#k)"/>
<line x1="645" y1="877" x2="672" y2="877"/><line x1="812" y1="877" x2="840" y2="877"/>
</g>
<text class="s e" x="675" y="869">4'-10 7/16"</text><text class="s" x="652" y="876">CTF</text>
<text class="s" x="806" y="869">4'-10 7/16"</text><text class="s" x="821" y="876">CTF</text>
<text class="t" x="801" y="847">2'-8 3/8"</text>
<text class="t c" x="765" y="753">66.05, PROFILE 2,</text>
<text class="t c" x="766" y="760">TYPE 2, COLOR A, WHITE TO LT. CREAM</text>
<g>
<line x1="738" y1="776" x2="775" y2="776"/><line x1="741" y1="776" x2="772" y2="776" marker-start="url(#k)" marker-end="url(#k)"/>
<line x1="741" y1="772" x2="741" y2="784"/><line x1="772" y1="772" x2="772" y2="784"/>
<line x1="733" y1="785" x2="741" y2="785"/><line x1="733" y1="807" x2="764" y2="807"/>
<line x1="737" y1="785" x2="737" y2="807" marker-start="url(#k)" marker-end="url(#k)"/>
<path d="M760,785 H742 V790 L754,804 V807 H760" style="stroke-width:1.3"/>
</g>
<text class="s c" x="752" y="773">1'-4"</text><text class="s e" x="736" y="798">1'-4"</text>
<text class="t c" x="760" y="822">PROFILE 2</text>

<g class="gl">
<line x1="645" y1="543" x2="700" y2="543"/><line x1="790" y1="543" x2="850" y2="543"/>
<line x1="645" y1="555" x2="850" y2="555"/>
<line x1="700" y1="540" x2="694" y2="582"/><line x1="790" y1="540" x2="800" y2="582"/>
<line x1="694" y1="582" x2="800" y2="582"/>
<line x1="694" y1="582" x2="694" y2="613"/><line x1="800" y1="582" x2="800" y2="613"/>
<line x1="694" y1="610" x2="800" y2="610"/>
<line x1="828" y1="555" x2="850" y2="555"/><line x1="828" y1="582" x2="850" y2="582"/>
<line x1="845" y1="552" x2="845" y2="585"/>
</g>
<g class="s c g">
<text x="660" y="541">1'-3 13/16"</text><text x="731" y="541">14'-5"</text><text x="808" y="541">1'-3 13/16"</text>
<text x="749" y="564">STL FROM</text><text x="749" y="572">3, 4 &amp; 13/S304</text>
<text x="849" y="571">5'</text>
<text x="747" y="608">17'-0 5/8"</text>
</g>
<text class="s c" x="749" y="628">SOUTH AND WEST CANOPIES</text>
<text class="s c" x="749" y="638">DIMENSIONS ARE STEEL MEMBERS.</text>

<path class="k" d="M191,632 H201.6 V817 H653.8 V827.6 H191 Z"/>
<g class="k">
<line x1="191" y1="669.2" x2="201.6" y2="669.2"/><line x1="191" y1="700.5" x2="201.6" y2="700.5"/><line x1="191" y1="732.3" x2="201.6" y2="732.3"/><line x1="191" y1="764.3" x2="201.6" y2="764.3"/><line x1="191" y1="796" x2="201.6" y2="796"/><line x1="191" y1="817" x2="201.6" y2="817"/>
<line x1="228.3" y1="817" x2="228.3" y2="827.6"/><line x1="265.6" y1="817" x2="265.6" y2="827.6"/><line x1="298.4" y1="817" x2="298.4" y2="827.6"/><line x1="331" y1="817" x2="331" y2="827.6"/><line x1="363.7" y1="817" x2="363.7" y2="827.6"/><line x1="396.4" y1="817" x2="396.4" y2="827.6"/><line x1="429" y1="817" x2="429" y2="827.6"/><line x1="461.7" y1="817" x2="461.7" y2="827.6"/><line x1="494.4" y1="817" x2="494.4" y2="827.6"/><line x1="527.1" y1="817" x2="527.1" y2="827.6"/><line x1="559.7" y1="817" x2="559.7" y2="827.6"/><line x1="592.4" y1="817" x2="592.4" y2="827.6"/><line x1="623.3" y1="817" x2="623.3" y2="827.6"/>
</g>
<g class="t c">
<text transform="translate(196.3,651) rotate(90)" dy="2.2">E2R</text>
<text transform="translate(196.3,685) rotate(90)" dy="2.2">S23R</text>
<text transform="translate(196.3,716.5) rotate(90)" dy="2.2">S23R</text>
<text transform="translate(196.3,748.3) rotate(90)" dy="2.2">S23R</text>
<text transform="translate(196.3,780) rotate(90)" dy="2.2">S23R</text>
<text transform="translate(196.3,806.5) rotate(90)" dy="2.2">S6N</text>
<text x="209.7" y="824.5">C2B</text><text x="247" y="824.5">S27R</text><text x="282" y="824.5">S23R</text><text x="314.7" y="824.5">S23R</text><text x="347.4" y="824.5">S23R</text><text x="380" y="824.5">S23R</text><text x="412.7" y="824.5">S24R</text><text x="445.4" y="824.5">S24R</text><text x="478" y="824.5">S23R</text><text x="510.8" y="824.5">S23R</text><text x="543.4" y="824.5">S23R</text><text x="576" y="824.5">S23R</text><text x="607.9" y="824.5">S21N</text><text x="638.6" y="824.5">E3L</text>
</g>
<g>
<line x1="172.9" y1="628" x2="172.9" y2="820"/>
<line x1="170" y1="633.8" x2="190" y2="633.8"/><line x1="170" y1="669.2" x2="190" y2="669.2"/><line x1="170" y1="700.5" x2="190" y2="700.5"/><line x1="170" y1="732.3" x2="190" y2="732.3"/><line x1="170" y1="764.3" x2="190" y2="764.3"/><line x1="170" y1="796" x2="190" y2="796"/><line x1="170" y1="817" x2="190" y2="817"/>
<polyline points="172.9,633.8 172.9,669.2 172.9,700.5 172.9,732.3 172.9,764.3 172.9,796 172.9,817" marker-start="url(#k)" marker-mid="url(#k)" marker-end="url(#k)"/>
<line x1="186" y1="848.5" x2="658" y2="848.5"/>
<line x1="191" y1="830" x2="191" y2="853"/><line x1="228.3" y1="830" x2="228.3" y2="853"/><line x1="265.6" y1="830" x2="265.6" y2="853"/><line x1="298.4" y1="830" x2="298.4" y2="853"/><line x1="331" y1="830" x2="331" y2="853"/><line x1="363.7" y1="830" x2="363.7" y2="853"/><line x1="396.4" y1="830" x2="396.4" y2="853"/><line x1="429" y1="830" x2="429" y2="853"/><line x1="461.7" y1="830" x2="461.7" y2="853"/><line x1="494.4" y1="830" x2="494.4" y2="853"/><line x1="527.1" y1="830" x2="527.1" y2="853"/><line x1="559.7" y1="830" x2="559.7" y2="853"/><line x1="592.4" y1="830" x2="592.4" y2="853"/><line x1="623.3" y1="830" x2="623.3" y2="853"/><line x1="653.8" y1="830" x2="653.8" y2="853"/>
<polyline points="191,848.5 228.3,848.5 265.6,848.5 298.4,848.5 331,848.5 363.7,848.5 396.4,848.5 429,848.5 461.7,848.5 494.4,848.5 527.1,848.5 559.7,848.5 592.4,848.5 623.3,848.5 653.8,848.5" marker-start="url(#k)" marker-mid="url(#k)" marker-end="url(#k)"/>
</g>
<g class="t e">
<text x="191" y="653">6'-8 1/4"</text><text x="191" y="687">5'-11 3/4"</text><text x="191" y="718.5">5'-11 3/4"</text><text x="191" y="750.3">5'-11 3/4"</text><text x="191" y="782">5'-11 3/4"</text><text x="191" y="808.5">3'-11 5/8"</text>
</g>
<g class="t c">
<text x="209.7" y="846">6'-10 1/2"</text><text x="247" y="846">6'-10 1/2"</text><text x="282" y="846">5'-11 3/4"</text><text x="314.7" y="846">5'-11 3/4"</text><text x="347.4" y="846">5'-11 3/4"</text><text x="380" y="846">5'-11 3/4"</text><text x="412.7" y="846">5'-11 7/8"</text><text x="445.4" y="846">5'-11 7/8"</text><text x="478" y="846">5'-11 3/4"</text><text x="510.8" y="846">5'-11 3/4"</text><text x="543.4" y="846">5'-11 3/4"</text><text x="576" y="846">5'-11 3/4"</text><text x="607.9" y="846">5'-7 3/16"</text><text x="638.6" y="846">5'-7 3/16"</text>
</g>
<g>
<line x1="372" y1="627" x2="416" y2="627"/><line x1="376" y1="627" x2="412" y2="627" marker-start="url(#k)" marker-end="url(#k)"/>
<line x1="376" y1="623" x2="376" y2="636"/><line x1="412" y1="623" x2="412" y2="636"/>
<line x1="365" y1="638" x2="374" y2="638"/><line x1="365" y1="668" x2="384" y2="668"/>
<line x1="368" y1="638" x2="368" y2="668" marker-start="url(#k)" marker-end="url(#k)"/>
<path d="M412,638 H376 V644 L383,665 V668 H412" style="stroke-width:1.2"/>
</g>
<text class="t c" x="394" y="624">2'</text><text class="t e" x="367" y="655">2'</text>
<text class="t c" x="402" y="677.5">PROFILE 1</text>
<text class="t" x="372.9" y="692.5">66.03, PROFILE 1,</text>
<text class="t" x="366.3" y="699.5">TYPE 1, COLOR B, BUFF</text>
<line x1="366.3" y1="702.5" x2="429" y2="702.5"/>
<line x1="366.3" y1="702.5" x2="209.6" y2="741" marker-end="url(#a)"/>
<line x1="366.3" y1="702.5" x2="267.9" y2="803.6" marker-end="url(#a)"/>

<path class="k" d="M108.8,471.7 L116.2,474 V568.9 M108.8,471.7 V576.8 L116.2,575 M116.2,480.4 V568.9"/>
<polygon class="k" points="116.2,474 142,480.2 142,487.3 116.2,480.4"/>
<polygon class="k" points="116.2,568.9 142,561.5 142,568.7 116.2,575.3"/>
<g class="k"><line x1="108.8" y1="497.4" x2="116.2" y2="497.4"/><line x1="108.8" y1="523.8" x2="116.2" y2="523.8"/><line x1="108.8" y1="550" x2="116.2" y2="550"/></g>
<g class="t c">
<text x="128" y="483" transform="rotate(14 128 481)">E1N</text><text x="128" y="568" transform="rotate(-14 128 566)">E5N</text>
<text x="112.5" y="488">E2B</text><text x="112.5" y="512.5">E3R</text><text x="112.5" y="538.6">E3N</text><text x="112.5" y="564">E4B</text>
</g>
<g>
<line x1="82" y1="471.7" x2="105" y2="471.7"/><line x1="82" y1="497.4" x2="106" y2="497.4"/><line x1="82" y1="523.8" x2="106" y2="523.8"/><line x1="82" y1="550" x2="106" y2="550"/><line x1="82" y1="576.8" x2="106" y2="576.8"/>
<line x1="85" y1="468" x2="85" y2="580"/>
<polyline points="85,471.7 85,497.4 85,523.8 85,550 85,576.8" marker-start="url(#k)" marker-mid="url(#k)" marker-end="url(#k)"/>
<line x1="67" y1="460" x2="120" y2="460"/>
<line x1="119.9" y1="460.4" x2="146.7" y2="467.3" marker-start="url(#k)" marker-end="url(#k)"/>
<line x1="120" y1="457" x2="116" y2="476"/><line x1="147" y1="464" x2="142" y2="480"/>
<line x1="88" y1="594" x2="122" y2="594"/>
<line x1="122" y1="594.5" x2="148" y2="586" marker-start="url(#k)" marker-end="url(#k)"/>
<line x1="117" y1="577" x2="122" y2="598"/><line x1="142" y1="570" x2="148" y2="590"/>
</g>
<g class="t">
<text x="67" y="457">4'-10 7/16"CTF</text>
<text x="67" y="483">4'-11 1/4"</text><text x="79.5" y="490">CTF</text>
<text x="67" y="509">4'-11 1/4"</text><text x="79.5" y="516">CTF</text>
<text x="67" y="536">4'-11 1/4"</text><text x="79.5" y="543">CTF</text>
<text x="67" y="562">4'-11 1/4"</text><text x="79.5" y="569">CTF</text>
<text x="80.5" y="584">4'-10 7/16"</text><text x="95" y="592">CTF</text>
</g>
<text class="t" x="240.7" y="525.5">66.05, PROFILE 2,</text>
<text class="t" x="213.3" y="532.4">TYPE 2, COLOR A, WHITE TO LT. CREAM</text>
<line x1="213.3" y1="534.7" x2="317.9" y2="534.7"/>
<line x1="213.3" y1="534.7" x2="145" y2="562.6" marker-end="url(#a)"/>
<g>
<line x1="256" y1="547.5" x2="283" y2="547.5"/><line x1="259" y1="547.5" x2="280" y2="547.5" marker-start="url(#k)" marker-end="url(#k)"/>
<line x1="259" y1="544" x2="259" y2="557"/><line x1="280" y1="544" x2="280" y2="557"/>
<line x1="251" y1="559.6" x2="258" y2="559.6"/><line x1="251" y1="580.4" x2="276" y2="580.4"/>
<line x1="254" y1="559.6" x2="254" y2="580.4" marker-start="url(#k)" marker-end="url(#k)"/>
<path d="M280,559.6 H259 V564 L276,578 V580.4 H280" style="stroke-width:1.3"/>
</g>
<text class="s c" x="268" y="545">1'-4"</text><text class="s e" x="253" y="572">1'-4"</text>
<text class="t c" x="269" y="594.6">PROFILE 2</text>

<line x1="33" y1="930.5" x2="926" y2="930.5" style="stroke-width:0.8"/>
<line x1="926" y1="930.5" x2="926" y2="995" style="stroke-width:0.8"/>
<line x1="33" y1="951.4" x2="926" y2="951.4" style="stroke-width:1.8"/>
<line x1="503.4" y1="951.4" x2="503.4" y2="995" style="stroke-width:0.8"/>
<line x1="667.7" y1="951.4" x2="667.7" y2="995" style="stroke-width:0.8"/>
<line x1="503.4" y1="972.5" x2="926" y2="972.5" style="stroke-width:1.2"/>
<line x1="33" y1="993.8" x2="926" y2="993.8" style="stroke-width:1.8"/>
<text x="38" y="939" textLength="863" lengthAdjust="spacingAndGlyphs" style="font-size:6.6px">ALL RIGHTS RESERVED. THIS DRAWING IS PROPERTY OF STROMBERG ARCHITECTURAL PRODUCTS INC. AND MAY BE USED ONLY WHEN UTILIZING STROMBERG ARCHITECTURAL PRODUCTS.  STROMBERG ARCHITECTURAL PRODUCTS INC.</text>
<text x="38" y="947.3" textLength="647" lengthAdjust="spacingAndGlyphs" style="font-size:6.6px">GENERAL TERMS AND CONDITIONS APPLY AND ARE INCORPORATE HERE IN BY REFERENCE.  THIS DETAIL MAY NOT APPLY TO ALL CONDITIONS AND CONSTRUCTION SITUATIONS.</text>
<rect x="37.4" y="955.3" width="39.3" height="34.9" style="fill:#000;stroke:none"/>
<path d="M58,960 q-4,3 0,6 q4,3 -2,6 q-6,3 0,5 M54,968 q-6,4 -2,7 q4,3 -2,6 q-6,2 -6,5 M60,973 q4,2 0,5 q-4,3 -10,4" style="stroke:#fff;stroke-width:0.9"/>
<text x="88" y="975" textLength="404" lengthAdjust="spacingAndGlyphs" style="font-family:'Liberation Serif',serif;font-size:21px;font-variant:small-caps">Stromberg Architectural Products Inc.</text>
<text x="94" y="988" textLength="197" lengthAdjust="spacingAndGlyphs" style="font-size:9.6px">4400 Oneal Street, Greenville, TX  75401</text>
<text x="302" y="988" textLength="188" lengthAdjust="spacingAndGlyphs" style="font-size:9.6px">Phone 903.454.0904   Fax 903.454.3642</text>
<text x="506" y="961" style="font-size:8px">TITLE:</text>
<text x="539" y="966.5" style="font-size:11px">ECC</text>
<text x="506" y="984" style="font-size:8px">SCALE:</text>
<text x="548" y="988" style="font-size:11px">AS NOTED</text>
<text x="670" y="961" style="font-size:8px">TYPE DWG:</text>
<text x="725" y="968" style="font-size:11px">CORNICE SETTING PLAN</text>
<text x="670" y="984" style="font-size:8px">DWG. SHEET:</text>
<text x="733" y="988" style="font-size:12.5px;font-weight:bold;font-family:'Liberation Sans',sans-serif">ECC CSP</text>
</svg>
</body></html>
